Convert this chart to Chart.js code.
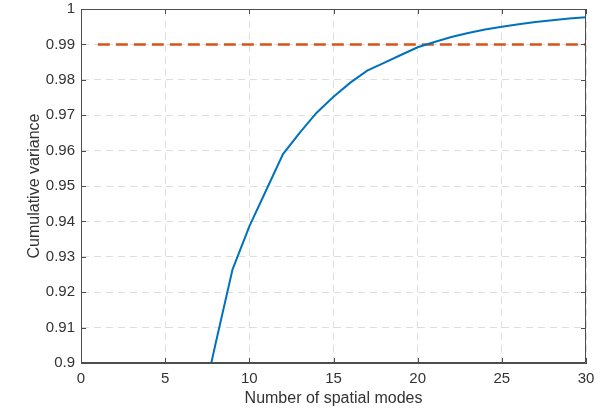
<!DOCTYPE html>
<html lang="en">
<head>
  <meta charset="UTF-8">
  <title>Cumulative variance</title>
  <script src="https://cdn.jsdelivr.net/npm/chart.js"></script>
  <style>
    html, body { margin: 0; padding: 0; background: #fff; }
    #wrap { width: 610px; height: 410px; }
  </style>
</head>
<body>
  <div id="wrap"><canvas id="chart" width="610" height="410"></canvas></div>

  <script>
    // values
    const modes = [7, 8, 9, 10, 11, 12, 13, 14, 15, 16, 17, 18, 19, 20, 21, 22, 23, 24, 25, 26, 27, 28, 29, 30];
    const cumVar = [0.884, 0.9056, 0.9264, 0.9386, 0.9488, 0.959, 0.9651, 0.9707, 0.9752, 0.9792, 0.9826, 0.9848,
                    0.987, 0.9892, 0.9907, 0.9921, 0.9932, 0.9942, 0.995, 0.9957, 0.9963, 0.9968, 0.9973, 0.9977];
    const thresholdX = [1, 30];
    const thresholdY = [0.99, 0.99];
    const xTicks = [0, 5, 10, 15, 20, 25, 30];
    const yTicks = [0.9, 0.91, 0.92, 0.93, 0.94, 0.95, 0.96, 0.97, 0.98, 0.99, 1];

    const axisColor = '#4d4d4d';
    const textColor = '#333333';
    const fontFam = '"Liberation Sans", Arial, Helvetica, sans-serif';

    // box around the plot + small inward tick marks (matlab style)
    const boxTicks = {
      id: 'boxTicks',
      afterDraw(chart) {
        const { ctx, chartArea: a, scales } = chart;
        ctx.save();
        ctx.strokeStyle = axisColor;
        ctx.lineWidth = 1;
        ctx.beginPath();
        ctx.rect(a.left + 0.5, a.top + 0.5, a.right - a.left - 1, a.bottom - a.top - 1);
        ctx.stroke();
        ctx.beginPath();
        xTicks.forEach(v => {
          const px = Math.round(scales.x.getPixelForValue(v)) + 0.5;
          ctx.moveTo(px, a.bottom); ctx.lineTo(px, a.bottom - 5);
          ctx.moveTo(px, a.top); ctx.lineTo(px, a.top + 5);
        });
        yTicks.forEach(v => {
          const py = Math.round(scales.y.getPixelForValue(v)) + 0.5;
          ctx.moveTo(a.left, py); ctx.lineTo(a.left + 5, py);
          ctx.moveTo(a.right, py); ctx.lineTo(a.right - 5, py);
        });
        ctx.stroke();
        ctx.restore();
      }
    };

    new Chart(document.getElementById('chart'), {
      type: 'line',
      data: {
        datasets: [
          {
            data: modes.map((m, i) => ({ x: m, y: cumVar[i] })),
            borderColor: '#0072BD',
            borderWidth: 2,
            pointRadius: 0,
            tension: 0
          },
          {
            data: thresholdX.map((m, i) => ({ x: m, y: thresholdY[i] })),
            borderColor: '#D95319',
            borderWidth: 2.5,
            borderDash: [12, 6],
            pointRadius: 0
          }
        ]
      },
      options: {
        responsive: false,
        animation: false,
        layout: { padding: { top: 9, right: 24, bottom: 0, left: 0 } },
        plugins: { legend: { display: false }, tooltip: { enabled: false } },
        scales: {
          x: {
            type: 'linear',
            min: 0, max: 30,
            afterBuildTicks: s => { s.ticks = xTicks.map(v => ({ value: v })); },
            afterFit: s => { s.height = 47; s.paddingLeft = 0; s.paddingRight = 0; },
            grid: { color: '#dedede', lineWidth: 1, drawTicks: false },
            border: { color: axisColor, dash: [7, 5] },
            ticks: { color: textColor, padding: 7, font: { family: fontFam, size: 15 }, maxRotation: 0 },
            title: {
              display: true, text: 'Number of spatial modes', color: textColor,
              font: { family: fontFam, size: 16 }, padding: { top: 0, bottom: 2 }
            }
          },
          y: {
            min: 0.9, max: 1,
            afterBuildTicks: s => { s.ticks = yTicks.map(v => ({ value: v })); },
            afterFit: s => { s.width = 81; s.paddingTop = 0; s.paddingBottom = 0; },
            grid: { color: '#dedede', lineWidth: 1, drawTicks: false },
            border: { color: axisColor, dash: [7, 5] },
            ticks: {
              color: textColor, padding: 6, font: { family: fontFam, size: 15 },
              callback: v => String(Math.round(v * 100) / 100)
            },
            title: {
              display: true, text: 'Cumulative variance', color: textColor,
              font: { family: fontFam, size: 16 }, padding: { top: 25, bottom: 0 }
            }
          }
        }
      },
      plugins: [boxTicks]
    });
  </script>
</body>
</html>
